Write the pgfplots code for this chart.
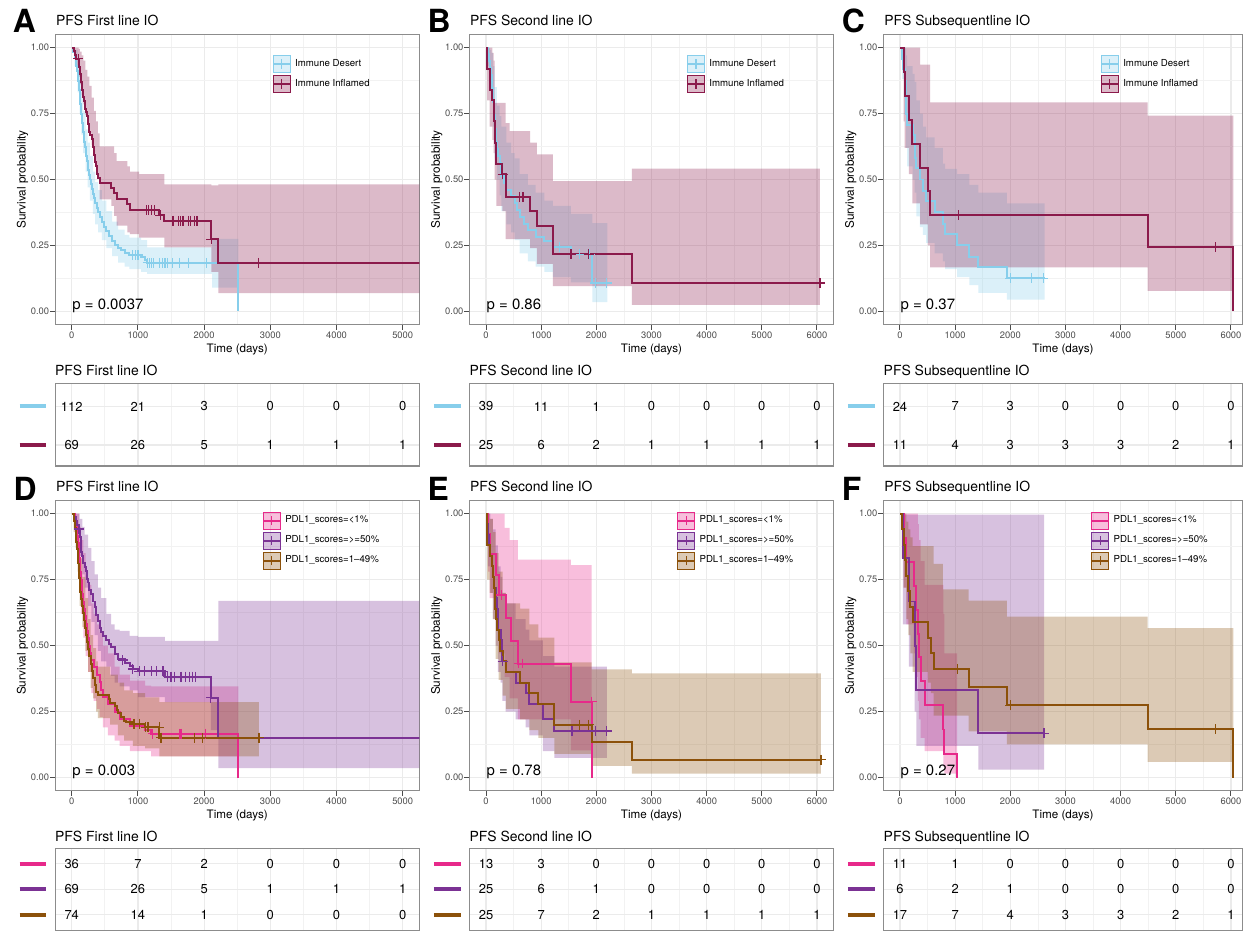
\documentclass[border=0pt]{standalone}
\usepackage{fontspec}
\setmainfont{TeX Gyre Heros}
\usepackage{pgfplots}
\pgfplotsset{compat=1.18}

\definecolor{cDes}{HTML}{87CEEB}
\definecolor{cInf}{HTML}{8B1A4B}
\definecolor{cPink}{HTML}{E7298A}
\definecolor{cPurp}{HTML}{7B3294}
\definecolor{cBrown}{HTML}{8C510A}

\newcommand{\fs}[1]{\fontsize{#1}{#1}\selectfont}

\pgfplotsset{
 km/.style={
   scale only axis, width=182.8pt, height=145.75pt, anchor=south west,
   ymin=-0.05, ymax=1.05,
   ytick={0,0.25,0.5,0.75,1}, yticklabels={0.00,0.25,0.50,0.75,1.00},
   minor ytick={0.125,0.375,0.625,0.875},
   grid=both,
   major grid style={black!8, line width=0.6pt},
   minor grid style={black!5, line width=0.35pt},
   tick align=outside, tick pos=left, major tick length=2.5pt, minor tick length=0pt,
   tick style={black!70, line width=0.5pt},
   axis line style={black!45, line width=0.6pt},
   tick label style={font=\fs{4.7}, text=black!70},
   xticklabel style={yshift=2.5pt},
   yticklabel style={xshift=3pt},
   xlabel={Time (days)}, ylabel={Survival probability},
   every axis x label/.style={at={(rel axis cs:0.5,0)}, anchor=center, yshift=-12.3pt, font=\fs{5.85}},
   every axis y label/.style={at={(rel axis cs:0,0.5)}, xshift=-16.35pt, rotate=90, anchor=center, font=\fs{5.9}},
   legend style={draw=none, fill=none, inner sep=0pt, row sep=1pt, font=\fs{4.85}, cells={anchor=west}},
   legend cell align=left,
 },
 xA/.style={xmin=-250, xmax=5250, xtick={0,1000,2000,3000,4000,5000}, xticklabels={0,1000,2000,3000,4000,5000}, minor xtick={500,1500,2500,3500,4500}},
 xB/.style={xmin=-300, xmax=6300, xtick={0,1000,2000,3000,4000,5000,6000}, xticklabels={0,1000,2000,3000,4000,5000,6000}, minor xtick={500,1500,2500,3500,4500,5500}},
 xC/.style={xB, xmax=6210, width=180.3pt},
 legtop/.style={legend style={at={(0.595,0.93)}, anchor=north west}},
 legbot/.style={legend style={at={(0.568,0.963)}, anchor=north west}},
 legtopC/.style={legend style={at={(0.603,0.93)}, anchor=north west}},
 legbotC/.style={legend style={at={(0.576,0.963)}, anchor=north west}},
 rt/.style={
   scale only axis, width=182.8pt, anchor=south west,
   grid=both, major tick length=0pt, minor tick length=0pt,
   major grid style={black!8, line width=0.6pt},
   minor grid style={black!5, line width=0.35pt},
   axis line style={black!45, line width=0.6pt},
   yticklabel style={anchor=east, inner sep=0pt, xshift=-4.2pt},
   clip=false,
 },
 rt2/.style={rt, height=41.5pt, ymin=0.45, ymax=2.6, ytick={1,2}, yticklabels={{\textcolor{cInf}{\rule{13.5pt}{2pt}}},{\textcolor{cDes}{\rule{13.5pt}{2pt}}}}},
 rt3/.style={rt, height=41pt, ymin=0.4, ymax=3.6, ytick={1,2,3}, yticklabels={{\textcolor{cBrown}{\rule{13.5pt}{2pt}}},{\textcolor{cPurp}{\rule{13.5pt}{2pt}}},{\textcolor{cPink}{\rule{13.5pt}{2pt}}}}},
}

\newcommand{\band}[2]{\addplot[const plot, fill=#1, fill opacity=0.3, draw=none, forget plot] coordinates {#2};}
\newcommand{\curve}[2]{\addplot[const plot, #1, line width=1pt, forget plot] coordinates {#2};}
\newcommand{\cens}[2]{\addplot[only marks, mark=+, mark size=2.5pt, #1, mark options={line width=0.6pt}, forget plot] coordinates {#2};}
\newcommand{\risk}[1]{\addplot[draw=none, mark=none, forget plot, nodes near coords, point meta=explicit symbolic, nodes near coords align={center}, every node near coord/.append style={anchor=center, inner sep=0pt, font=\fs{6.5}}] coordinates {#1};}
\newcommand{\leg}[2]{\addlegendimage{legend image code/.code={
  \fill[#1, fill opacity=0.3] (0pt,-4.25pt) rectangle (8.5pt,4.25pt);
  \draw[#1, line width=1pt] (0pt,0pt) -- (8.5pt,0pt);
  \draw[#1, line width=0.6pt] (4.25pt,-2.3pt) -- (4.25pt,2.3pt);}}
  \addlegendentry{#2}}
\newcommand{\legnp}[2]{\addlegendimage{legend image code/.code={
  \fill[#1, fill opacity=0.3] (0pt,-4.25pt) rectangle (8.5pt,4.25pt);
  \draw[#1, line width=1pt] (0pt,0pt) -- (8.5pt,0pt);}}
  \addlegendentry{#2}}
\newcommand{\pval}[1]{\node[anchor=base west, inner sep=0pt, font=\fs{7.5}] at (axis cs:5,0.009) {#1};}

\begin{document}
\begin{tikzpicture}
\path (0,0) rectangle (624pt,467pt);

% ---------- letters and titles ----------
\node[anchor=base west, inner sep=0pt, font=\fs{16}\bfseries] at (6.3pt,450.5pt) {A};
\node[anchor=base west, inner sep=0pt, font=\fs{16}\bfseries] at (214.5pt,450.5pt) {B};
\node[anchor=base west, inner sep=0pt, font=\fs{16}\bfseries] at (422.5pt,450.5pt) {C};
\node[anchor=base west, inner sep=0pt, font=\fs{16}\bfseries] at (6.6pt,215.6pt) {D};
\node[anchor=base west, inner sep=0pt, font=\fs{16}\bfseries] at (214.5pt,215.6pt) {E};
\node[anchor=base west, inner sep=0pt, font=\fs{16}\bfseries] at (422.5pt,215.6pt) {F};
\node[anchor=base west, inner sep=0pt, font=\fs{7}] at (28pt,454pt) {PFS First line IO};
\node[anchor=base west, inner sep=0pt, font=\fs{7}] at (235.8pt,454pt) {PFS Second line IO};
\node[anchor=base west, inner sep=0pt, font=\fs{7}] at (443.8pt,454pt) {PFS Subsequentline IO};
\node[anchor=base west, inner sep=0pt, font=\fs{7}] at (28pt,220pt) {PFS First line IO};
\node[anchor=base west, inner sep=0pt, font=\fs{7}] at (235.8pt,220pt) {PFS Second line IO};
\node[anchor=base west, inner sep=0pt, font=\fs{7}] at (443.8pt,220pt) {PFS Subsequentline IO};
\node[anchor=base west, inner sep=0pt, font=\fs{7}] at (27.5pt,278.5pt) {PFS First line IO};
\node[anchor=base west, inner sep=0pt, font=\fs{7}] at (235.6pt,278.5pt) {PFS Second line IO};
\node[anchor=base west, inner sep=0pt, font=\fs{7}] at (443.5pt,278.5pt) {PFS Subsequentline IO};
\node[anchor=base west, inner sep=0pt, font=\fs{7}] at (27.5pt,44.5pt) {PFS First line IO};
\node[anchor=base west, inner sep=0pt, font=\fs{7}] at (235.6pt,44.5pt) {PFS Second line IO};
\node[anchor=base west, inner sep=0pt, font=\fs{7}] at (443.5pt,44.5pt) {PFS Subsequentline IO};

% ================= A =================
\begin{axis}[km, xA, legtop, at={(27.7pt,304pt)}]
\band{cDes}{(0,1)(45,0.99)(90,0.95)(118,0.90)(144,0.83)(174,0.76)(210,0.69)(241,0.64)(275,0.59)(318,0.53)(352,0.49)(400,0.46)(455,0.42)(525,0.38)(610,0.34)(700,0.31)(800,0.29)(870,0.28)(1050,0.27)(1140,0.243)(2120,0.275)(2517,0.275)
 (2517,0.09)(2120,0.142)(1140,0.15)(1050,0.16)(870,0.17)(800,0.185)(700,0.21)(610,0.24)(525,0.27)(455,0.30)(400,0.33)(352,0.37)(318,0.42)(275,0.47)(241,0.53)(210,0.60)(174,0.67)(144,0.75)(118,0.83)(90,0.93)(45,1.0)(0,1.0)}
\band{cInf}{(0,1)(40,1)(70,1)(105,0.995)(125,0.985)(150,0.97)(175,0.95)(205,0.915)(235,0.89)(265,0.855)(300,0.81)(335,0.76)(365,0.72)(395,0.675)(420,0.626)(600,0.626)(640,0.60)(680,0.57)(840,0.55)(880,0.53)(1020,0.52)(1400,0.482)(2110,0.478)(2215,0.482)(5400,0.482)
 (5400,0.069)(2215,0.15)(2110,0.243)(1400,0.28)(1020,0.293)(880,0.30)(840,0.325)(680,0.362)(640,0.40)(600,0.425)(420,0.51)(395,0.55)(365,0.59)(335,0.63)(300,0.675)(265,0.71)(235,0.745)(205,0.785)(175,0.82)(150,0.86)(125,0.89)(105,0.925)(70,0.96)(40,1)(0,1)}
\curve{cDes}{(0,1.000)(25,0.982)(45,0.964)(60,0.946)(72,0.929)(82,0.911)(90,0.893)(98,0.875)(105,0.857)(112,0.839)(118,0.821)(124,0.804)(130,0.786)(137,0.768)(144,0.750)(151,0.732)(158,0.714)(166,0.696)(174,0.679)(182,0.661)(191,0.643)(200,0.625)(210,0.607)(220,0.589)(230,0.571)(241,0.554)(252,0.536)(263,0.518)(275,0.500)(288,0.482)(302,0.464)(318,0.446)(334,0.429)(352,0.411)(375,0.393)(400,0.375)(425,0.357)(455,0.339)(490,0.321)(525,0.304)(565,0.286)(610,0.268)(655,0.250)(700,0.241)(745,0.232)(800,0.223)(870,0.214)(1050,0.205)(1110,0.195)(1140,0.184)(2517,0)}
\cens{cDes}{(920,0.214)(960,0.214)(1000,0.214)(1150,0.184)(1180,0.184)(1200,0.184)(1240,0.184)(1330,0.184)(1370,0.184)(1410,0.184)(1450,0.184)(1520,0.184)(1630,0.184)(1760,0.184)(2030,0.184)}
\curve{cInf}{(0,1)(40,0.986)(55,0.971)(70,0.957)(105,0.942)(115,0.928)(125,0.899)(135,0.870)(150,0.855)(160,0.841)(175,0.812)(190,0.797)(205,0.768)(220,0.754)(235,0.739)(250,0.710)(265,0.681)(280,0.667)(300,0.652)(320,0.623)(335,0.594)(350,0.565)(365,0.551)(380,0.522)(400,0.507)(420,0.488)(600,0.467)(640,0.448)(680,0.428)(840,0.406)(880,0.384)(1320,0.364)(1400,0.343)(2110,0.274)(2215,0.184)(5400,0.184)}
\cens{cInf}{(100,0.957)(1130,0.384)(1160,0.384)(1200,0.384)(1250,0.384)(1340,0.364)(1530,0.343)(1610,0.343)(1640,0.343)(1680,0.343)(1760,0.343)(1800,0.343)(1850,0.343)(1880,0.343)(1900,0.343)(2110,0.274)(2818,0.184)}
\leg{cDes}{Immune Desert}
\leg{cInf}{Immune Inflamed}
\pval{p = 0.0037}
\end{axis}

% ================= B =================
\begin{axis}[km, xB, legtop, at={(235.7pt,304pt)}]
\band{cDes}{(0,1)(30,1)(70,0.99)(96,0.98)(125,0.93)(156,0.85)(195,0.78)(245,0.74)(277,0.70)(367,0.64)(457,0.60)(518,0.58)(608,0.52)(760,0.48)(900,0.45)(1059,0.42)(1210,0.40)(1540,0.37)(1930,0.335)(2200,0.335)
 (2200,0.035)(1930,0.11)(1540,0.13)(1210,0.15)(1059,0.17)(900,0.19)(760,0.22)(608,0.27)(518,0.30)(457,0.33)(367,0.38)(277,0.44)(245,0.50)(195,0.58)(156,0.70)(125,0.82)(96,0.85)(70,0.93)(30,1)(0,1)}
\band{cInf}{(0,1)(18,1)(66,1)(114,0.98)(140,0.95)(156,0.79)(190,0.79)(295,0.79)(355,0.714)(427,0.683)(800,0.64)(920,0.595)(1210,0.494)(2642,0.541)(6054,0.541)
 (6054,0.025)(2642,0.096)(1210,0.18)(920,0.24)(800,0.274)(427,0.274)(355,0.38)(295,0.40)(190,0.50)(156,0.60)(140,0.65)(114,0.70)(66,0.80)(18,1)(0,1)}
\curve{cDes}{(0,1)(30,0.974)(50,0.949)(70,0.923)(96,0.897)(110,0.846)(125,0.795)(140,0.744)(156,0.692)(175,0.641)(195,0.615)(217,0.590)(245,0.564)(277,0.513)(320,0.487)(367,0.462)(457,0.436)(518,0.410)(570,0.385)(608,0.359)(690,0.333)(760,0.308)(900,0.282)(1059,0.268)(1210,0.243)(1540,0.216)(1930,0.108)(2200,0.108)}
\cens{cDes}{(1330,0.243)(1690,0.216)(1880,0.216)(1980,0.108)(2190,0.108)}
\curve{cInf}{(0,1)(18,0.92)(66,0.84)(114,0.80)(140,0.76)(150,0.72)(160,0.68)(170,0.64)(180,0.60)(190,0.56)(295,0.52)(355,0.433)(800,0.379)(920,0.325)(1210,0.217)(2642,0.108)(6054,0.108)}
\cens{cInf}{(300,0.52)(610,0.433)(670,0.433)(1540,0.217)(1860,0.217)(6054,0.108)}
\leg{cDes}{Immune Desert}
\leg{cInf}{Immune Inflamed}
\pval{p = 0.86}
\end{axis}

% ================= C =================
\begin{axis}[km, xC, legtopC, at={(443.55pt,304pt)}]
\band{cDes}{(0,1)(40,1)(84,1)(110,0.97)(130,0.93)(230,0.90)(265,0.87)(295,0.80)(360,0.75)(415,0.70)(475,0.66)(626,0.62)(776,0.56)(818,0.54)(1035,0.52)(1258,0.48)(1420,0.45)(1938,0.41)(2620,0.41)
 (2620,0.045)(1938,0.07)(1420,0.10)(1258,0.13)(1035,0.16)(818,0.19)(776,0.22)(626,0.26)(475,0.29)(415,0.32)(360,0.36)(295,0.45)(265,0.50)(230,0.55)(130,0.62)(110,0.75)(84,0.88)(40,1)(0,1)}
\band{cInf}{(0,1)(66,1)(84,1)(162,1)(223,1)(367,0.935)(505,0.935)(548,0.792)(4490,0.742)(6042,0.742)
 (6042,0.078)(4490,0.167)(548,0.25)(505,0.33)(367,0.41)(223,0.52)(162,0.62)(84,0.72)(66,1)(0,1)}
\curve{cDes}{(0,1.0)(40,0.958)(60,0.917)(84,0.875)(100,0.833)(110,0.792)(114,0.75)(130,0.708)(230,0.667)(265,0.625)(280,0.583)(295,0.542)(360,0.50)(415,0.458)(475,0.417)(626,0.375)(776,0.333)(818,0.292)(1035,0.25)(1258,0.208)(1420,0.167)(1938,0.125)(2620,0.125)}
\cens{cDes}{(2000,0.125)(2390,0.125)(2600,0.125)}
\curve{cInf}{(0,1.0)(66,0.909)(84,0.818)(162,0.727)(223,0.636)(367,0.545)(505,0.455)(548,0.364)(4490,0.243)(6042,0)}
\cens{cInf}{(1065,0.364)(5723,0.243)}
\leg{cDes}{Immune Desert}
\leg{cInf}{Immune Inflamed}
\pval{p = 0.37}
\end{axis}

% ================= D =================
\begin{axis}[km, xA, legbot, at={(27.7pt,70pt)}]
\band{cPink}{(0,1)(50,1)(85,1)(110,0.95)(140,0.90)(175,0.85)(210,0.78)(246,0.73)(296,0.66)(330,0.62)(380,0.58)(421,0.55)(471,0.50)(547,0.47)(647,0.42)(722,0.39)(880,0.367)(1108,0.348)(1199,0.345)(2517,0.345)
 (2517,0.08)(1199,0.10)(1108,0.10)(880,0.12)(722,0.14)(647,0.16)(547,0.19)(471,0.23)(421,0.26)(380,0.29)(330,0.32)(296,0.40)(246,0.46)(210,0.53)(175,0.62)(140,0.72)(110,0.83)(85,0.92)(50,1)(0,1)}
\band{cPurp}{(0,1)(40,1)(80,1)(120,0.98)(160,0.95)(196,0.92)(246,0.87)(296,0.82)(346,0.77)(396,0.72)(446,0.68)(522,0.62)(597,0.58)(647,0.56)(722,0.556)(873,0.537)(998,0.533)(1409,0.518)(2101,0.518)(2217,0.669)(5400,0.669)
 (5400,0.036)(2217,0.18)(2101,0.286)(1409,0.305)(998,0.33)(873,0.345)(722,0.36)(647,0.385)(597,0.42)(522,0.44)(446,0.48)(396,0.54)(346,0.59)(296,0.65)(246,0.72)(196,0.77)(160,0.84)(120,0.91)(80,0.96)(40,1)(0,1)}
\band{cBrown}{(0,1)(30,1)(60,0.97)(90,0.92)(120,0.83)(160,0.76)(205,0.68)(246,0.60)(285,0.54)(325,0.49)(370,0.44)(396,0.42)(580,0.39)(697,0.36)(790,0.33)(923,0.32)(1108,0.304)(1324,0.286)(2828,0.286)
 (2828,0.08)(1324,0.11)(1108,0.12)(923,0.14)(790,0.16)(697,0.20)(580,0.225)(396,0.25)(370,0.30)(325,0.34)(285,0.40)(246,0.48)(205,0.57)(160,0.65)(120,0.78)(90,0.87)(60,0.93)(30,1)(0,1)}
\curve{cPink}{(0,1.0)(50,0.972)(75,0.944)(85,0.917)(95,0.889)(105,0.861)(110,0.833)(120,0.806)(130,0.778)(140,0.750)(150,0.722)(160,0.694)(175,0.667)(185,0.639)(196,0.611)(210,0.583)(230,0.556)(246,0.528)(265,0.500)(280,0.472)(296,0.444)(330,0.417)(380,0.389)(421,0.361)(446,0.333)(471,0.306)(547,0.278)(647,0.250)(722,0.222)(880,0.194)(1108,0.180)(1199,0.166)(2517,0)}
\cens{cPink}{(1224,0.166)(1625,0.166)(1650,0.166)(2026,0.166)}
\curve{cPurp}{(0,1.0)(40,0.986)(60,0.971)(80,0.957)(105,0.942)(120,0.913)(135,0.884)(145,0.855)(160,0.841)(175,0.812)(196,0.797)(210,0.783)(225,0.754)(246,0.739)(265,0.71)(296,0.696)(315,0.667)(346,0.645)(365,0.616)(396,0.594)(420,0.565)(446,0.551)(480,0.536)(522,0.522)(560,0.507)(597,0.493)(647,0.469)(700,0.449)(800,0.435)(873,0.424)(923,0.411)(998,0.403)(1409,0.382)(2101,0.302)(2217,0.151)(5400,0.151)}
\cens{cPurp}{(110,0.942)(772,0.445)(923,0.411)(1020,0.403)(1100,0.403)(1200,0.403)(1280,0.403)(1380,0.403)(1450,0.382)(1500,0.382)(1550,0.382)(1650,0.382)(1720,0.382)(1780,0.382)(1830,0.382)(1870,0.382)(2101,0.302)(2828,0.151)}
\curve{cBrown}{(0,1.0)(30,0.973)(50,0.946)(60,0.919)(70,0.892)(80,0.865)(90,0.838)(100,0.811)(110,0.784)(115,0.757)(120,0.730)(130,0.703)(145,0.676)(160,0.649)(175,0.622)(190,0.595)(205,0.568)(220,0.541)(235,0.514)(246,0.486)(265,0.459)(285,0.432)(305,0.405)(325,0.378)(346,0.351)(370,0.324)(396,0.311)(560,0.297)(580,0.284)(647,0.270)(680,0.257)(697,0.243)(747,0.230)(790,0.216)(822,0.209)(923,0.203)(1108,0.191)(1324,0.151)(2828,0.151)}
\cens{cBrown}{(940,0.203)(1020,0.203)(1115,0.191)(1140,0.191)(1160,0.191)(1320,0.191)(1350,0.151)(1850,0.151)(1975,0.151)(2828,0.151)}
\leg{cPink}{PDL1\_scores=<1\%}
\leg{cPurp}{PDL1\_scores=>=50\%}
\leg{cBrown}{PDL1\_scores=1--49\%}
\pval{p = 0.003}
\end{axis}

% ================= E =================
\begin{axis}[km, xB, legbot, at={(235.7pt,70pt)}]
\band{cPink}{(0,1)(40,1)(66,1)(187,1)(235,1)(337,0.946)(427,0.90)(578,0.826)(1540,0.805)(1913,0.805)
 (1913,0.103)(1540,0.22)(578,0.30)(427,0.38)(337,0.47)(235,0.56)(187,0.68)(66,0.78)(40,1)(0,1)}
\band{cPurp}{(0,1)(36,1)(78,0.98)(126,0.94)(175,0.88)(217,0.80)(265,0.76)(295,0.70)(355,0.66)(535,0.60)(716,0.56)(788,0.52)(1029,0.46)(1240,0.42)(2190,0.42)
 (2190,0.074)(1240,0.10)(1029,0.16)(788,0.19)(716,0.22)(535,0.25)(355,0.29)(295,0.36)(265,0.40)(217,0.50)(175,0.60)(126,0.70)(78,0.80)(36,1)(0,1)}
\band{cBrown}{(0,1)(18,1)(66,0.98)(126,0.93)(175,0.85)(230,0.78)(300,0.70)(361,0.66)(620,0.64)(788,0.58)(950,0.53)(1240,0.436)(1913,0.41)(2642,0.395)(6072,0.395)
 (6072,0.015)(2642,0.044)(1913,0.09)(1240,0.15)(950,0.18)(788,0.22)(620,0.26)(361,0.31)(300,0.37)(230,0.45)(175,0.60)(126,0.70)(66,0.75)(18,1)(0,1)}
\curve{cPink}{(0,1)(40,0.923)(66,0.846)(187,0.769)(235,0.692)(355,0.606)(445,0.519)(578,0.432)(1540,0.288)(1913,0)}
\cens{cPink}{(277,0.692)(596,0.432)(668,0.432)(1913,0.288)}
\curve{cPurp}{(0,1)(20,0.96)(36,0.92)(60,0.88)(78,0.84)(100,0.80)(126,0.76)(150,0.72)(175,0.68)(195,0.64)(210,0.60)(217,0.56)(265,0.52)(285,0.48)(295,0.44)(355,0.40)(535,0.36)(716,0.32)(788,0.28)(1029,0.22)(1240,0.176)(2190,0.176)}
\cens{cPurp}{(300,0.44)(1560,0.176)(1980,0.176)(2190,0.176)}
\curve{cBrown}{(0,1)(18,0.88)(66,0.84)(100,0.80)(126,0.76)(150,0.72)(160,0.68)(170,0.64)(180,0.60)(200,0.56)(230,0.52)(260,0.48)(300,0.44)(361,0.40)(620,0.36)(788,0.32)(950,0.28)(1240,0.20)(1913,0.134)(2642,0.067)(6072,0.067)}
\cens{cBrown}{(1690,0.20)(1860,0.20)(6072,0.067)}
\leg{cPink}{PDL1\_scores=<1\%}
\leg{cPurp}{PDL1\_scores=>=50\%}
\leg{cBrown}{PDL1\_scores=1--49\%}
\pval{p = 0.78}
\end{axis}

% ================= F =================
\begin{axis}[km, xC, legbotC, at={(443.55pt,70pt)}]
\band{cPink}{(0,1)(66,1)(114,1)(247,1)(295,1)(325,0.96)(343,0.90)(373,0.82)(445,0.73)(788,0.62)(806,0.47)(1035,0.47)
 (1035,0.015)(806,0.04)(788,0.10)(445,0.15)(373,0.22)(343,0.29)(325,0.38)(295,0.47)(247,0.58)(114,0.72)(66,1)(0,1)}
\band{cPurp}{(0,1)(54,0.996)(162,0.996)(265,0.996)(295,0.996)(1420,0.996)(2612,0.996)
 (2612,0.03)(1420,0.12)(295,0.25)(265,0.42)(162,0.58)(54,1)(0,1)}
\band{cBrown}{(0,1)(30,1)(66,1)(114,0.97)(150,0.94)(190,0.91)(230,0.877)(505,0.877)(560,0.877)(610,0.81)(776,0.713)(1246,0.67)(1938,0.61)(4490,0.566)(6042,0.566)
 (6042,0.059)(4490,0.126)(1938,0.175)(1246,0.235)(776,0.235)(610,0.32)(560,0.36)(505,0.40)(230,0.47)(190,0.54)(150,0.60)(114,0.72)(66,0.83)(30,1)(0,1)}
\curve{cPink}{(0,1)(66,0.909)(114,0.818)(247,0.727)(295,0.636)(325,0.545)(343,0.455)(373,0.364)(445,0.273)(788,0.182)(806,0.091)(1035,0)}
\curve{cPurp}{(0,1)(54,0.833)(162,0.667)(265,0.5)(295,0.333)(1420,0.167)(2612,0.167)}
\cens{cPurp}{(2612,0.167)}
\curve{cBrown}{(0,1)(30,0.941)(66,0.882)(84,0.824)(114,0.765)(150,0.706)(190,0.647)(230,0.588)(505,0.529)(560,0.471)(610,0.412)(1246,0.343)(1938,0.274)(4490,0.183)(6042,0)}
\cens{cBrown}{(1047,0.412)(1998,0.274)(5723,0.183)}
\legnp{cPink}{PDL1\_scores=<1\%}
\leg{cPurp}{PDL1\_scores=>=50\%}
\leg{cBrown}{PDL1\_scores=1--49\%}
\pval{p = 0.27}
\end{axis}

% ================= risk tables =================
\begin{axis}[rt2, xA, xticklabels={}, at={(27.7pt,233pt)}]
\risk{(0,2)[112] (1000,2)[21] (2000,2)[3] (3000,2)[0] (4000,2)[0] (5000,2)[0] (0,1)[69] (1000,1)[26] (2000,1)[5] (3000,1)[1] (4000,1)[1] (5000,1)[1]}
\end{axis}
\begin{axis}[rt2, xB, xticklabels={}, at={(235.7pt,233pt)}]
\risk{(0,2)[39] (1000,2)[11] (2000,2)[1] (3000,2)[0] (4000,2)[0] (5000,2)[0] (6000,2)[0] (0,1)[25] (1000,1)[6] (2000,1)[2] (3000,1)[1] (4000,1)[1] (5000,1)[1] (6000,1)[1]}
\end{axis}
\begin{axis}[rt2, xC, xticklabels={}, at={(443.55pt,233pt)}]
\risk{(0,2)[24] (1000,2)[7] (2000,2)[3] (3000,2)[0] (4000,2)[0] (5000,2)[0] (6000,2)[0] (0,1)[11] (1000,1)[4] (2000,1)[3] (3000,1)[3] (4000,1)[3] (5000,1)[2] (6000,1)[1]}
\end{axis}
\begin{axis}[rt3, xA, xticklabels={}, at={(27.7pt,0pt)}]
\risk{(0,3)[36] (1000,3)[7] (2000,3)[2] (3000,3)[0] (4000,3)[0] (5000,3)[0] (0,2)[69] (1000,2)[26] (2000,2)[5] (3000,2)[1] (4000,2)[1] (5000,2)[1] (0,1)[74] (1000,1)[14] (2000,1)[1] (3000,1)[0] (4000,1)[0] (5000,1)[0]}
\end{axis}
\begin{axis}[rt3, xB, xticklabels={}, at={(235.7pt,0pt)}]
\risk{(0,3)[13] (1000,3)[3] (2000,3)[0] (3000,3)[0] (4000,3)[0] (5000,3)[0] (6000,3)[0] (0,2)[25] (1000,2)[6] (2000,2)[1] (3000,2)[0] (4000,2)[0] (5000,2)[0] (6000,2)[0] (0,1)[25] (1000,1)[7] (2000,1)[2] (3000,1)[1] (4000,1)[1] (5000,1)[1] (6000,1)[1]}
\end{axis}
\begin{axis}[rt3, xC, xticklabels={}, at={(443.55pt,0pt)}]
\risk{(0,3)[11] (1000,3)[1] (2000,3)[0] (3000,3)[0] (4000,3)[0] (5000,3)[0] (6000,3)[0] (0,2)[6] (1000,2)[2] (2000,2)[1] (3000,2)[0] (4000,2)[0] (5000,2)[0] (6000,2)[0] (0,1)[17] (1000,1)[7] (2000,1)[4] (3000,1)[3] (4000,1)[3] (5000,1)[2] (6000,1)[1]}
\end{axis}
\end{tikzpicture}
\end{document}
